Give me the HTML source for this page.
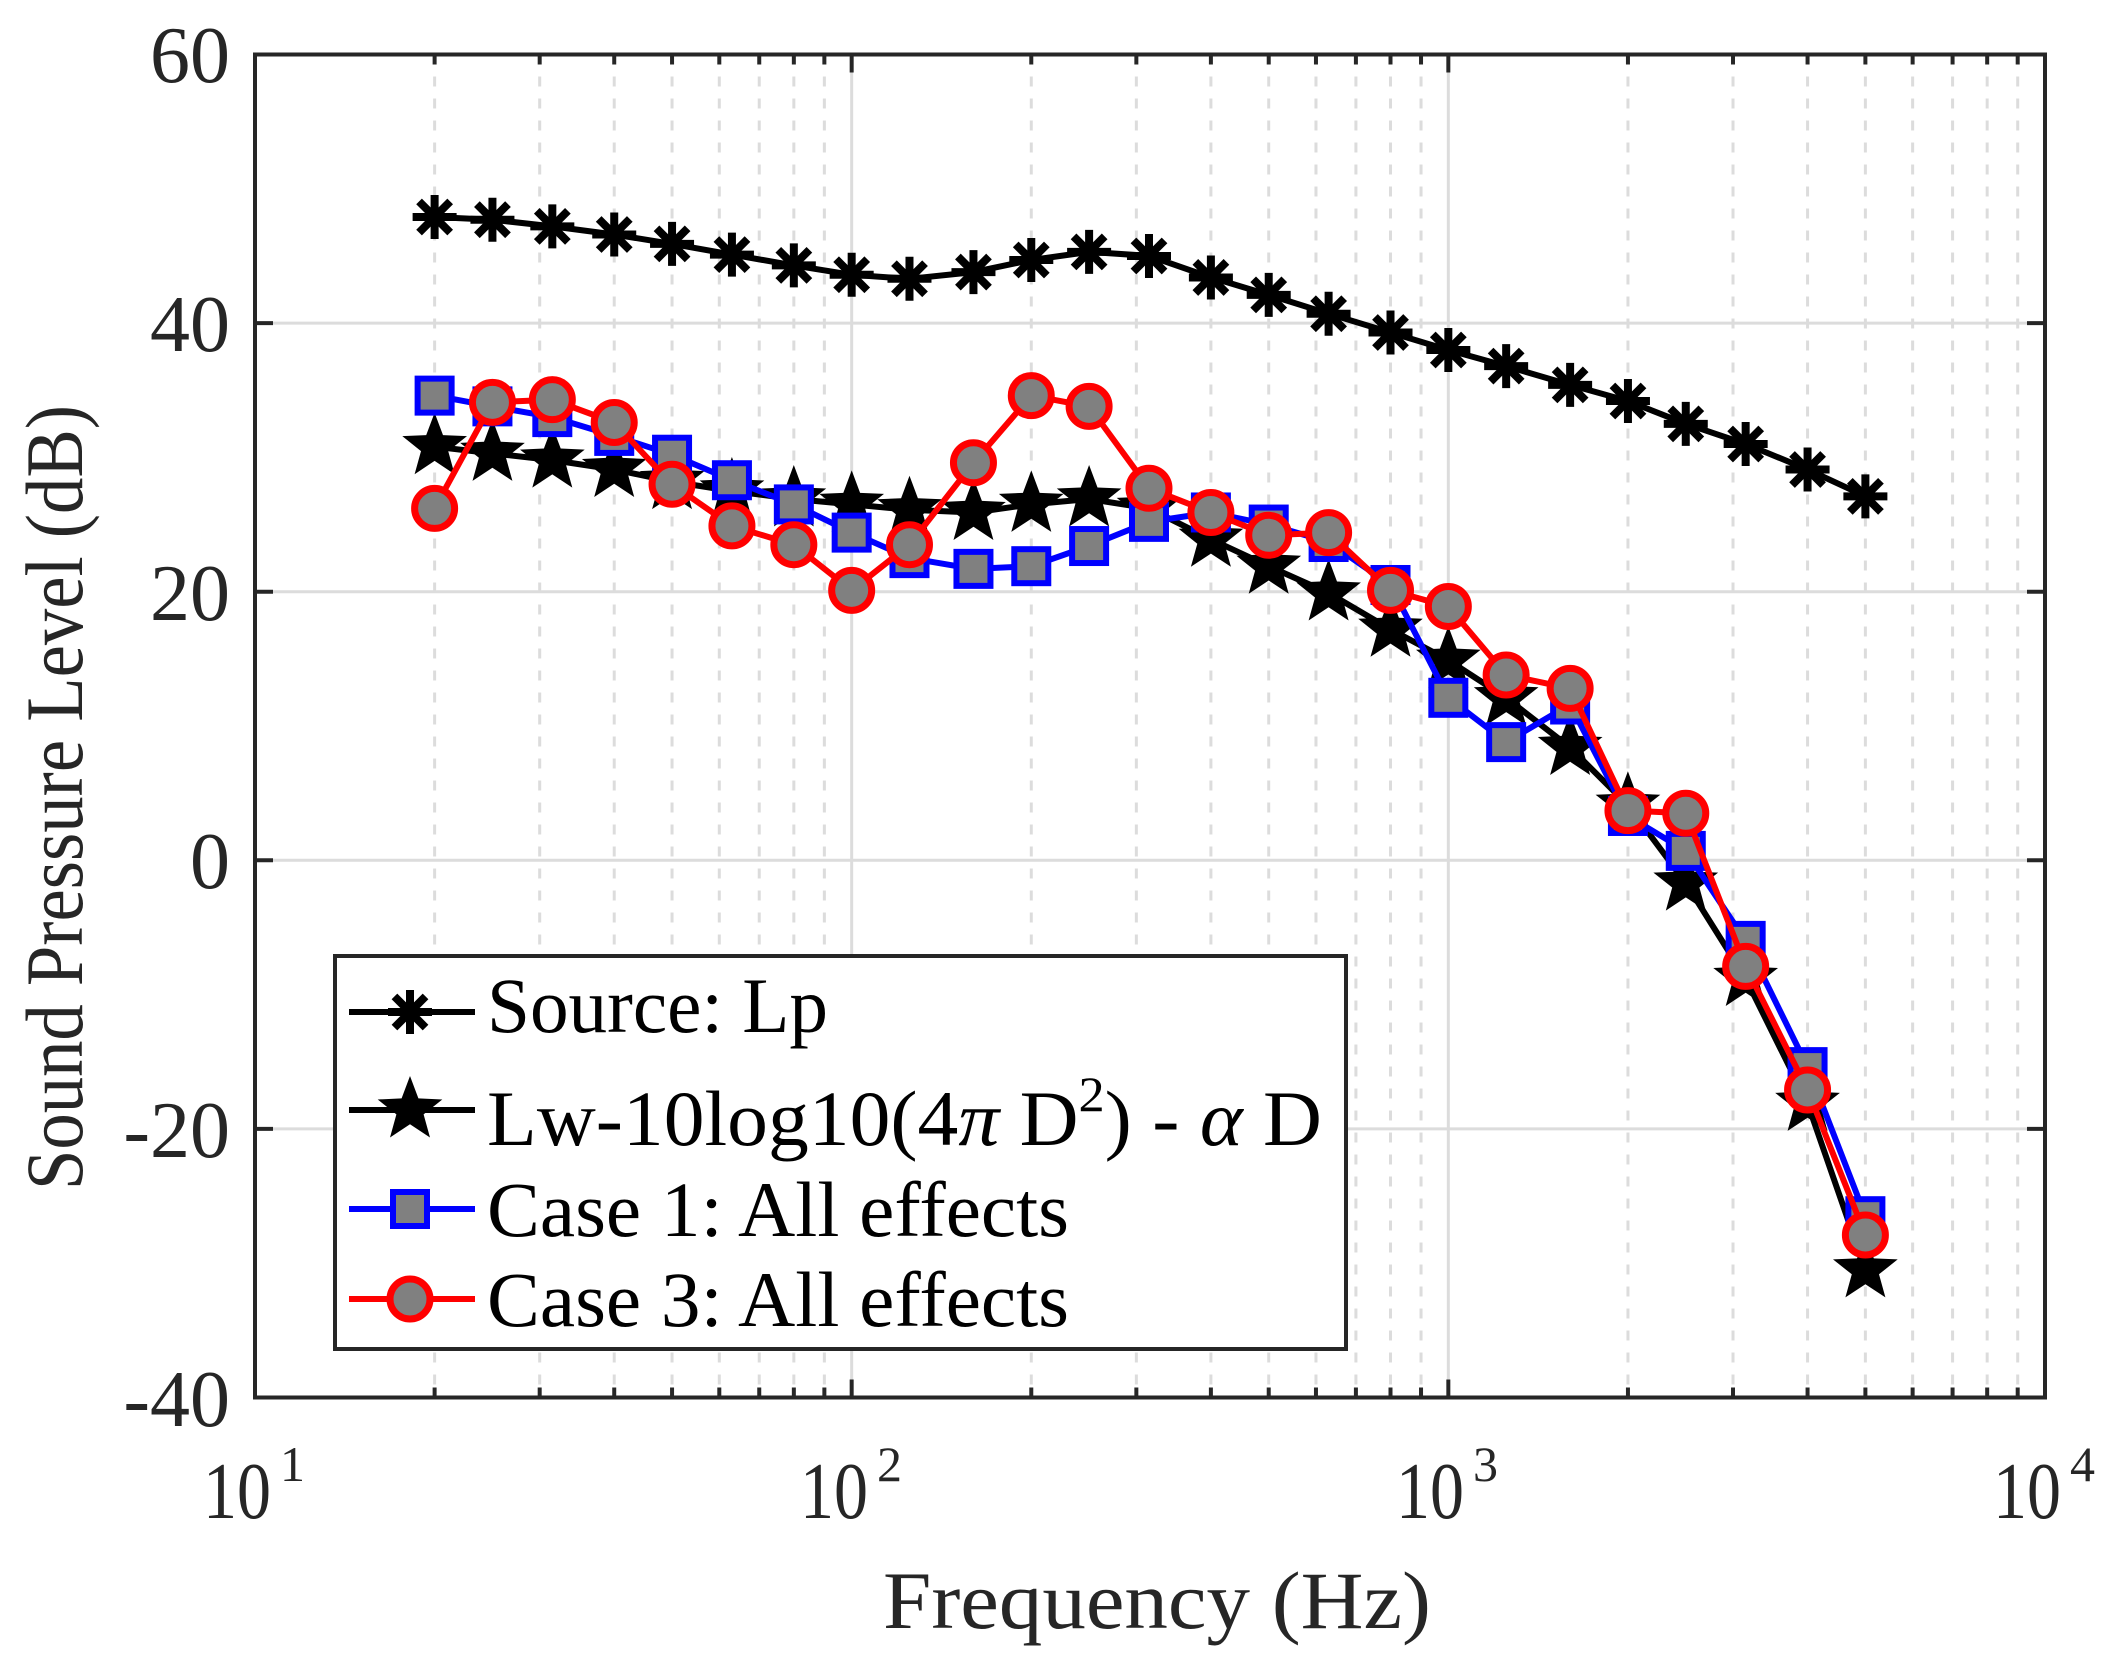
<!DOCTYPE html>
<html><head><meta charset="utf-8"><style>
html,body{margin:0;padding:0;background:#fff;}
svg{display:block;font-family:"Liberation Serif",serif;}
</style></head><body>
<svg id="s" width="2125" height="1676" viewBox="0 0 2125 1676" xmlns="http://www.w3.org/2000/svg">
<rect width="2125" height="1676" fill="#fff"/>
<g id="grid"></g>
<g id="series"></g>
<rect x="255" y="54.5" width="1790" height="1343" fill="none" stroke="#262626" stroke-width="4"/>
<g id="ticks"></g>
<g fill="#262626" font-size="80" text-anchor="end">
<text x="230" y="82">60</text>
<text x="230" y="351">40</text>
<text x="230" y="620">20</text>
<text x="230" y="888">0</text>
<text x="230" y="1157">-20</text>
<text x="230" y="1426">-40</text>
</g>
<g fill="#262626" font-size="80">
<text x="203" y="1518" textLength="68" lengthAdjust="spacingAndGlyphs">10</text><text x="280" y="1481" font-size="50">1</text>
<text x="800" y="1518" textLength="68" lengthAdjust="spacingAndGlyphs">10</text><text x="877" y="1481" font-size="50">2</text>
<text x="1396" y="1518" textLength="68" lengthAdjust="spacingAndGlyphs">10</text><text x="1473" y="1481" font-size="50">3</text>
<text x="1993" y="1518" textLength="68" lengthAdjust="spacingAndGlyphs">10</text><text x="2070" y="1481" font-size="50">4</text>
<text x="883" y="1628" font-size="82" textLength="548" lengthAdjust="spacingAndGlyphs">Frequency (Hz)</text>
<text transform="translate(82,1190) rotate(-90)" font-size="82" textLength="785" lengthAdjust="spacingAndGlyphs">Sound Pressure Level (dB)</text>
</g>
<g id="legend">
<rect x="335" y="956" width="1011" height="393" fill="#fff" stroke="#262626" stroke-width="4"/>
<g font-size="78" fill="#000">
<text x="487" y="1032" textLength="341" lengthAdjust="spacingAndGlyphs">Source: Lp</text>
<text x="487" y="1145" textLength="835" lengthAdjust="spacingAndGlyphs">Lw-10log10(4<tspan font-style="italic">π</tspan> D<tspan font-size="50" dy="-34">2</tspan><tspan dy="34">) - </tspan><tspan font-style="italic">α</tspan> D</text>
<text x="487" y="1236" textLength="582" lengthAdjust="spacingAndGlyphs">Case 1: All effects</text>
<text x="487" y="1326" textLength="582" lengthAdjust="spacingAndGlyphs">Case 3: All effects</text>
</g>
<g id="legmk"></g>
</g>
</svg>
<script>
const L=255,R=2045,T=54.5,B=1397.5,dec=(R-L)/3,pdb=(B-T)/100;
const X=f=>L+(Math.log10(f)-1)*dec, Y=v=>T+(60-v)*pdb;
const ns="http://www.w3.org/2000/svg";
function el(p,tag,a){const e=document.createElementNS(ns,tag);for(const k in a)e.setAttribute(k,a[k]);p.appendChild(e);return e;}
const g=document.getElementById('grid'),tk=document.getElementById('ticks');
for(let d=1;d<4;d++)for(let m=1;m<10;m++){const f=m*Math.pow(10,d),x=X(f);
 if(m==1){if(d>1)el(g,'line',{x1:x,x2:x,y1:T,y2:B,stroke:'#dcdcdc','stroke-width':3});}
 else el(g,'line',{x1:x,x2:x,y1:T,y2:B,stroke:'#dcdcdc','stroke-width':3,'stroke-dasharray':'10 12'});
 const len=m==1?18:10;
 el(tk,'line',{x1:x,x2:x,y1:B,y2:B-len,stroke:'#262626','stroke-width':4});
 el(tk,'line',{x1:x,x2:x,y1:T,y2:T+len,stroke:'#262626','stroke-width':4});}
for(let v=-20;v<=40;v+=20){const y=Y(v);el(g,'line',{x1:L,x2:R,y1:y,y2:y,stroke:'#dcdcdc','stroke-width':3});}
for(let v=-40;v<=60;v+=20){const y=Y(v);el(tk,'line',{x1:L,x2:L+18,y1:y,y2:y,stroke:'#262626','stroke-width':4});el(tk,'line',{x1:R,x2:R-18,y1:y,y2:y,stroke:'#262626','stroke-width':4});}
const F=[20,25,31.5,40,50,63,80,100,125,160,200,250,315,400,500,630,800,1000,1250,1600,2000,2500,3150,4000,5000];
const S=[47.9,47.7,47.2,46.6,45.9,45.1,44.3,43.6,43.3,43.8,44.7,45.3,45.0,43.4,42.1,40.7,39.3,38.0,36.8,35.4,34.2,32.5,31.0,29.1,27.1];
const W=[30.8,30.3,29.8,29.1,28.2,27.5,26.9,26.5,26.1,25.9,26.5,26.9,26.2,23.9,21.9,19.9,17.2,14.9,12.1,8.4,4.1,-1.7,-8.8,-18.1,-30.5];
const C1=[34.6,33.8,33.0,31.6,30.2,28.3,26.5,24.4,22.5,21.7,21.9,23.4,25.2,25.9,25.0,23.7,20.5,12.1,8.8,11.6,3.3,0.7,-6.0,-15.4,-26.5];
const C3=[26.2,34.1,34.3,32.6,28.0,24.9,23.5,20.1,23.5,29.6,34.6,33.8,27.7,25.9,24.2,24.4,20.1,18.9,13.8,12.8,3.7,3.5,-7.9,-17.1,-27.9];
function aster(p,x,y){const r=22;for(let i=0;i<4;i++){const a=i*Math.PI/4;el(p,'line',{x1:x-r*Math.cos(a),y1:y-r*Math.sin(a),x2:x+r*Math.cos(a),y2:y+r*Math.sin(a),stroke:'#000','stroke-width':8});}}
function star(p,x,y,r){let pts=[];for(let i=0;i<10;i++){const rr=i%2?r*0.42:r,a=-Math.PI/2+i*Math.PI/5;pts.push((x+rr*Math.cos(a)).toFixed(1)+','+(y+rr*Math.sin(a)).toFixed(1));}el(p,'polygon',{points:pts.join(' '),fill:'#000'});}
function sq(p,x,y){el(p,'rect',{x:x-17,y:y-17,width:34,height:34,fill:'#808080',stroke:'#0000ff','stroke-width':6});}
function circ(p,x,y){el(p,'circle',{cx:x,cy:y,r:20,fill:'#808080',stroke:'#ff0000','stroke-width':7});}
const sg=document.getElementById('series');
function series(D,col,mk){el(sg,'polyline',{points:F.map((f,i)=>X(f).toFixed(1)+','+Y(D[i]).toFixed(1)).join(' '),fill:'none',stroke:col,'stroke-width':6,'stroke-linejoin':'round'});F.forEach((f,i)=>mk(sg,X(f),Y(D[i])));}
series(S,'#000',aster);
series(W,'#000',(p,x,y)=>star(p,x,y,34));
series(C1,'#0000ff',sq);
series(C3,'#ff0000',circ);
const lg=document.getElementById('legmk');
const rows=[[1012,'#000',aster],[1110,'#000',(p,x,y)=>star(p,x,y,34)],[1209,'#0000ff',sq],[1299,'#ff0000',circ]];
rows.forEach(([y,c,m])=>{el(lg,'line',{x1:349,x2:475,y1:y,y2:y,stroke:c,'stroke-width':6});m(lg,410,y);});
</script>
</body></html>
